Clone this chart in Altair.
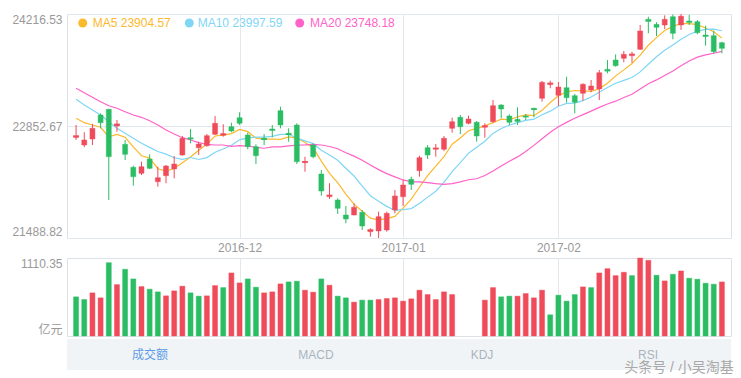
import altair as alt
import pandas as pd

# ---------------- data ----------------
dates = [
    "2016-11-03", "2016-11-04", "2016-11-07", "2016-11-08", "2016-11-09", "2016-11-10", "2016-11-11",
    "2016-11-14", "2016-11-15", "2016-11-16", "2016-11-17", "2016-11-18", "2016-11-21", "2016-11-22",
    "2016-11-23", "2016-11-24", "2016-11-25", "2016-11-28", "2016-11-29", "2016-11-30",
    "2016-12-01", "2016-12-02", "2016-12-05", "2016-12-06", "2016-12-07", "2016-12-08", "2016-12-09",
    "2016-12-12", "2016-12-13", "2016-12-14", "2016-12-15", "2016-12-16", "2016-12-19", "2016-12-20",
    "2016-12-21", "2016-12-22", "2016-12-23", "2016-12-28", "2016-12-29", "2016-12-30",
    "2017-01-03", "2017-01-04", "2017-01-05", "2017-01-06", "2017-01-09", "2017-01-10", "2017-01-11",
    "2017-01-12", "2017-01-13", "2017-01-16", "2017-01-17", "2017-01-18", "2017-01-19", "2017-01-20",
    "2017-01-23", "2017-01-24", "2017-01-25", "2017-01-26", "2017-01-27",
    "2017-02-01", "2017-02-02", "2017-02-03", "2017-02-06", "2017-02-07", "2017-02-08", "2017-02-09",
    "2017-02-10", "2017-02-13", "2017-02-14", "2017-02-15", "2017-02-16", "2017-02-17", "2017-02-20",
    "2017-02-21", "2017-02-22", "2017-02-23", "2017-02-24", "2017-02-27", "2017-02-28",
    "2017-03-01",
]

opens = [
    22712.7, 22621.3, 22694.4, 22986.6, 23056.1, 22852.7, 22629.9, 22349.8, 22276.7, 22450.9,
    22174.4, 22247.5, 22329.1, 22499.6, 22710.2, 22588.5, 22612.8, 22751.6, 22739.5, 22844.2,
    22953.8, 22743.1, 22600.6, 22702.9, 22816.2, 23039.0, 22763.8, 22864.9, 22405.8, 22621.3,
    22268.2, 21991.8, 21951.6, 21769.0, 21769.0, 21801.8, 21565.6, 21574.1, 21586.3, 21829.8,
    21991.8, 22203.7, 22308.4, 22588.5, 22569.0, 22569.0, 22824.7, 22958.6, 22885.6, 22897.8,
    22836.9, 22905.1, 23108.4, 22974.5, 22934.3, 22974.5, 23068.2, 23190.0, 23355.6, 23226.5,
    23319.1, 23221.7, 23250.9, 23291.1, 23303.3, 23543.1, 23656.4, 23677.1, 23708.8, 23786.7,
    24152.0, 24091.1, 24082.6, 24183.6, 24082.6, 24131.3, 24122.8, 23960.8, 23952.3, 23867.1,
]
closes = [
    22730.9, 22682.2, 22824.7, 22892.9, 22478.9, 22873.4, 22508.1, 22235.3, 22357.1, 22337.6,
    22223.2, 22365.6, 22390.0, 22702.9, 22698.1, 22633.5, 22734.6, 22885.6, 22755.3, 22791.8,
    22885.6, 22600.6, 22491.0, 22690.8, 22804.0, 22864.9, 22751.6, 22418.0, 22418.0, 22478.9,
    22061.2, 22008.8, 21850.5, 21720.2, 21862.7, 21635.0, 21586.3, 21748.3, 21789.7, 22000.3,
    22134.3, 22142.8, 22466.7, 22499.6, 22581.2, 22702.9, 22905.1, 22844.2, 22937.9, 22730.9,
    22852.7, 23099.9, 23059.7, 22897.8, 22913.6, 22966.0, 23056.1, 23384.8, 23372.7, 23327.6,
    23197.3, 23141.3, 23360.5, 23339.8, 23501.7, 23526.1, 23587.0, 23725.8, 23725.8, 24009.5,
    24131.3, 24054.6, 24152.0, 23981.5, 24190.0, 24119.1, 23988.8, 23948.6, 23757.5, 23798.9,
]
highs = [
    22864.9, 22776.0, 22877.1, 23007.3, 23060.0, 22925.8, 22682.2, 22369.3, 22418.0, 22508.1,
    22357.1, 22377.8, 22487.4, 22730.9, 22816.2, 22661.5, 22755.3, 22974.5, 22873.4, 22892.9,
    23019.5, 22771.1, 22629.9, 22755.3, 22864.9, 23087.7, 22824.7, 22885.6, 22478.9, 22642.0,
    22316.9, 22155.0, 21972.3, 21878.5, 21911.4, 21829.8, 21607.0, 21809.1, 21809.1, 22073.4,
    22195.1, 22235.3, 22491.0, 22621.3, 22633.5, 22730.9, 22953.8, 22986.6, 22978.1, 22913.6,
    22885.6, 23169.3, 23116.9, 22995.2, 23080.4, 22998.8, 23075.5, 23400.7, 23404.3, 23388.5,
    23453.0, 23242.4, 23372.7, 23412.8, 23534.6, 23656.4, 23725.8, 23766.0, 23757.5, 24082.6,
    24183.6, 24115.5, 24200.0, 24210.0, 24216.53, 24205.0, 24143.5, 24074.1, 24013.2, 23879.2,
]
lows = [
    22682.2, 22593.3, 22621.3, 22824.7, 21951.6, 22783.3, 22438.7, 22125.7, 22256.0, 22329.1,
    22113.6, 22155.0, 22215.8, 22491.0, 22642.0, 22499.6, 22600.6, 22743.1, 22722.4, 22776.0,
    22864.9, 22569.0, 22390.0, 22621.3, 22715.1, 22824.7, 22661.5, 22390.0, 22296.2, 22459.4,
    22004.0, 21963.8, 21781.1, 21667.9, 21765.0, 21586.3, 21504.7, 21488.82, 21565.6, 21789.7,
    21878.5, 22073.4, 22235.3, 22450.9, 22478.9, 22548.3, 22771.1, 22755.3, 22873.4, 22661.5,
    22710.2, 22892.9, 22946.5, 22864.9, 22864.9, 22925.8, 22958.6, 23148.6, 23311.8, 23096.2,
    23136.4, 23007.3, 23160.8, 23263.1, 23169.3, 23494.4, 23574.8, 23628.4, 23623.5, 23778.2,
    23981.5, 23948.6, 24033.9, 23908.5, 24021.7, 24082.6, 23969.3, 23830.5, 23738.0, 23738.0,
]
# turnover (亿元); three sessions have no value in the picture
volumes = [
    557.3, 519.0, 614.0, 543.1, 1043.6, 731.7, 950.1, 812.5, 703.3, 666.5,
    628.2, 571.5, 642.4, 709.0, 614.0, 567.2, 571.5, 717.5, 689.1, 897.6,
    755.8, 812.5, 694.8, 614.0, 628.2, 741.6, 770.0, 779.9, 652.3, 623.9,
    812.5, 723.2, 567.2, 543.1, 482.1, 510.5, 510.5, 519.0, 533.2, 543.1,
    496.3, 528.9, 652.3, 589.9, 519.0, 628.2, 589.9, None, None, None,
    510.5, 689.1, 557.3, 567.2, 567.2, 604.1, 543.1, 652.3, 302.0, 581.4,
    496.3, 589.9, 699.1, 689.1, 897.6, 958.6, 859.3, 907.5, 859.3, 1110.35,
    1077.7, 865.0, 784.2, 879.2, 926.0, 822.4, 808.3, 751.5, 737.4, 770.0,
]
# 1 = red (up day), 0 = green (down day) for the turnover bars
volume_up = [
    0, 0, 1, 1, 0, 1, 0, 0, 1, 0,
    0, 1, 1, 1, 0, 0, 1, 1, 0, 1,
    1, 0, 0, 1, 1, 1, 0, 0, 1, 1,
    0, 1, 0, 0, 1, 0, 0, 1, 1, 1,
    1, 1, 1, 1, 1, 1, 1, 1, 1, 1,
    1, 1, 0, 0, 1, 1, 1, 1, 0, 0,
    0, 0, 1, 0, 1, 1, 1, 1, 0, 1,
    1, 0, 1, 0, 1, 0, 0, 0, 0, 1,
]
# moving averages at the start of the window (need earlier sessions)
ma5_head = [22946.5, 22892.9, 22864.9, 22836.9]
ma10_head = [23177.8, 23108.4, 23047.5, 22986.6, 22905.1, 22824.7, 22763.8, 22702.9, 22642.0]
ma20_head = [23311.8, 23258.2, 23202.2, 23148.6, 23099.9, 23068.2, 23026.8, 22986.6, 22958.6,
             22917.2, 22864.9, 22804.0, 22755.3, 22710.2, 22682.2, 22649.4, 22629.9, 22621.3, 22621.3]

ma_names = ["MA5", "MA10", "MA20"]
legend_labels = ["MA5 23904.57", "MA10 23997.59", "MA20 23748.18"]
month_labels = ["2016-12", "2017-01", "2017-02"]
price_ticks = [21488.82, 22852.67, 24216.53]
volume_max = 1110.35
volume_unit = "亿元"
tabs = ["成交额", "MACD", "KDJ", "RSI"]
tab_active = [1, 0, 0, 0]
watermark = "头条号 / 小吴淘基"

# ---------------- derived table ----------------
N = len(dates)
close_s = pd.Series(closes)
ma = {}
for name, win, head in [("MA5", 5, ma5_head), ("MA10", 10, ma10_head), ("MA20", 20, ma20_head)]:
    vals = close_s.rolling(win).mean().round(2).tolist()
    for k, v in enumerate(head):
        vals[k] = v
    ma[name] = vals

df = pd.DataFrame({
    "i": list(range(N)), "date": dates,
    "open": opens, "close": closes, "high": highs, "low": lows,
    "vol": volumes, "vol_up": volume_up,
    "MA5": ma["MA5"], "MA10": ma["MA10"], "MA20": ma["MA20"],
})

tick_idx = [next(k for k, d in enumerate(dates) if d.startswith(m)) for m in month_labels]
label_expr = " : ".join(f"datum.value == {t} ? '{m}'" for t, m in zip(tick_idx, month_labels)) + " : ''"

# ---------------- style ----------------
FONT = "Liberation Sans, Arial, Noto Sans CJK SC, sans-serif"
RED = "#F04B5A"
GREEN = "#2BBD64"
MA_COLORS = ["#FBB92C", "#7FD6F5", "#FF62C8"]
FRAME = "#DCE2E8"
GRID = "#E3E8ED"
LABEL = "#999999"
FS = 12
W, H1, H2 = 664, 224, 78
YEXT = 66  # room reserved left of the plots for the value labels

xscale = alt.Scale(domain=[-0.5, N - 0.5], nice=False, zero=False)
yscale = alt.Scale(domain=[price_ticks[0], price_ticks[-1]], nice=False, zero=False)
up = "datum.close >= datum.open"
candle_color = alt.condition(up, alt.value(RED), alt.value(GREEN))

base = alt.Chart(df)

xA = alt.X("i:Q", scale=xscale, title=None,
           axis=alt.Axis(values=tick_idx, labelExpr=label_expr, grid=True, ticks=False,
                         domain=False, labelPadding=4, labelFlush=False, labelOverlap=False))
yA = alt.Y("low:Q", scale=yscale, title=None,
           axis=alt.Axis(values=price_ticks, format=".2f", labelFlush=True, grid=True,
                         ticks=False, domain=False, labelPadding=5,
                         minExtent=YEXT, maxExtent=YEXT))

wick = base.mark_rule(strokeWidth=1).encode(x=xA, y=yA, y2="high:Q", color=candle_color)
body = base.mark_bar(size=5, strokeWidth=1, strokeOpacity=0.45, orient="vertical").encode(
    x="i:Q", y="open:Q", y2="close:Q", fill=candle_color, stroke=candle_color)
doji = base.transform_filter("abs(datum.close - datum.open) < 25").transform_calculate(
    xl="datum.i - 0.36", xr="datum.i + 0.36").mark_rule(strokeWidth=1.2).encode(
    x="xl:Q", x2="xr:Q", y="close:Q", color=candle_color)

lines = base.transform_fold(ma_names, as_=["ma", "val"]).mark_line(strokeWidth=1.2).encode(
    x="i:Q", y="val:Q",
    color=alt.Color("ma:N", scale=alt.Scale(domain=ma_names, range=MA_COLORS), legend=None),
    order="i:Q")

legend_layers = []
for lab, col, cx, tx in zip(legend_labels, MA_COLORS, [15.7, 122.3, 232.7], [25.7, 130.7, 243]):
    ld = alt.Chart(pd.DataFrame({"label": [lab]}))
    legend_layers.append(ld.mark_circle(size=80, color=col, opacity=1).encode(
        x=alt.value(cx), y=alt.value(9)))
    legend_layers.append(ld.mark_text(align="left", baseline="middle", fontSize=FS, font=FONT,
                                      color=col).encode(x=alt.value(tx), y=alt.value(9), text="label:N"))

# narrow white strip at the very left edge, where the reference crops its axis labels
edge = alt.Chart(pd.DataFrame({"k": [0]})).mark_rect(color="white").encode(
    x=alt.value(-YEXT), x2=alt.value(-55), y=alt.value(0), y2=alt.value(H1))

main = alt.layer(lines, wick, body, doji, *legend_layers, edge).properties(width=W, height=H1)

vol_bars = base.mark_bar(size=5, strokeWidth=1, strokeOpacity=0.45, orient="vertical").encode(
    x=alt.X("i:Q", scale=xscale, title=None,
            axis=alt.Axis(values=tick_idx, labels=False, grid=True, ticks=False, domain=False)),
    y=alt.Y("vol:Q", scale=alt.Scale(domain=[0, volume_max], nice=False, zero=True), title=None,
            axis=alt.Axis(values=[0, volume_max], grid=False, ticks=False, domain=False,
                          labelFlush=True, labelPadding=5, minExtent=YEXT, maxExtent=YEXT,
                          labelExpr=f"datum.value == 0 ? '{volume_unit}' : format(datum.value, '.2f')")),
    fill=alt.condition("datum.vol_up == 1", alt.value(RED), alt.value(GREEN)),
    stroke=alt.condition("datum.vol_up == 1", alt.value(RED), alt.value(GREEN)),
)

# indicator tab strip under the turnover panel
tdf = pd.DataFrame({"tab": tabs, "active": tab_active})
tx = alt.X("tab:N", sort=tabs, scale=alt.Scale(paddingInner=0, paddingOuter=0), axis=None)
tab_bg = alt.Chart(tdf).mark_rect(color="#F1F4F6").encode(
    x=tx, y=alt.value(H2 + 3), y2=alt.value(H2 + 34))
tab_text = alt.Chart(tdf).mark_text(fontSize=12, font=FONT, baseline="middle").encode(
    x=tx, y=alt.value(H2 + 19), text="tab:N",
    color=alt.condition("datum.active == 1", alt.value("#5E9BE8"), alt.value("#AAB4BE")))
wm = alt.Chart(pd.DataFrame({"t": [watermark]})).mark_text(
    fontSize=14, font=FONT, color="#A8A8A8", baseline="middle", align="center").encode(
    x=alt.value(612), y=alt.value(H2 + 32), text="t:N")

volume = alt.layer(vol_bars, tab_bg, tab_text, wm).resolve_scale(x="independent").properties(
    width=W, height=H2)

chart = alt.vconcat(main, volume, spacing=20, bounds="flush").properties(
    padding={"left": 0, "top": 12, "right": 0, "bottom": 0},
    background="white",
).configure_view(stroke=FRAME, strokeWidth=1).configure_axis(
    labelFont=FONT, labelFontSize=FS, labelColor=LABEL, gridColor=GRID, gridWidth=1,
)

chart.save("out.html", embed_options={"renderer": "svg", "actions": False})
